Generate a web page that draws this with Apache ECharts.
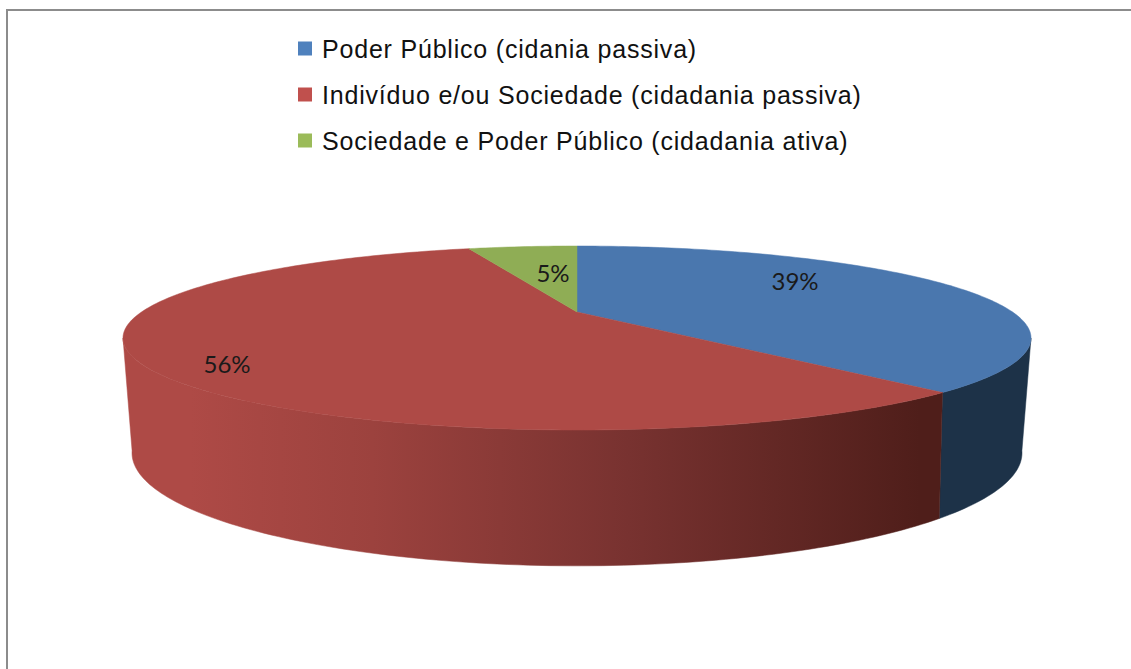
<!DOCTYPE html>
<html>
<head>
<meta charset="utf-8">
<style>
  html, body { margin: 0; padding: 0; background: #fff; }
  #chart { width: 1131px; height: 669px; }
  /* the legend in the picture is set wide */
  #chart svg text { letter-spacing: 0.8px; }
  #chart svg text[style*="Lato"] { letter-spacing: 0; }
</style>
<script src="https://cdn.jsdelivr.net/npm/echarts@6/dist/echarts.min.js"></script>
</head>
<body>
<div id="chart"></div>
<script>
const categories = [
  "Poder Público (cidania passiva)",
  "Indivíduo e/ou Sociedade (cidadania passiva)",
  "Sociedade e Poder Público (cidadania ativa)",
];
const shares = [38.5, 56.4, 5.1];
const colors = ["#4a77ae", "#ae4a46", "#8fad55"];
const legendColors = ["#4f81bd", "#c0504d", "#9bbb59"];
const labelSpots = [[795, 280], [227, 363], [553, 272]];

// the disc in perspective: circle point -> screen through a simple projective map
const topFace = { cy: 312, a: 84.65, A: 435.5, k: 0.2826 };
const bottomFace = { cy: 419, a: 102.8, A: 424.5, k: 0.3 };
const cx = 577;

function project(face, deg) {
  const t = (deg * Math.PI) / 180;
  const u = Math.sin(t);
  const v = -Math.cos(t);
  const w = 1 - face.k * v;
  return [cx + (face.A * u) / w, face.cy + (face.a * v) / w];
}

function rim(face, from, to) {
  const pts = [];
  const steps = Math.max(2, Math.ceil(Math.abs(to - from)));
  for (let i = 0; i <= steps; i++) {
    pts.push(project(face, from + ((to - from) * i) / steps));
  }
  return pts;
}

const total = shares.reduce((s, v) => s + v, 0);
const edgeRight = 106.4; // silhouette of the cylinder, right
const edgeLeft = 253.6; // silhouette of the cylinder, left

const sideFill = [
  "#1d3248",
  new echarts.graphic.LinearGradient(190, 0, 920, 0, [
    { offset: 0, color: "#ae4a46" },
    { offset: 0.25, color: "#9c423e" },
    { offset: 0.6, color: "#783230" },
    { offset: 1, color: "#4f1e1a" },
  ], true),
  "#6b8239",
];

function renderSlice(idx) {
  return function (params, api) {
    const before = shares.slice(0, idx).reduce((s, v) => s + v, 0);
    const from = (before / total) * 360;
    const to = from + (api.value(0) / total) * 360;
    const children = [];

    // outer wall, only the part facing the viewer
    const a = Math.max(from, edgeRight);
    const b = Math.min(to, edgeLeft);
    if (b > a) {
      children.push({
        type: "polygon",
        shape: { points: rim(topFace, a, b).concat(rim(bottomFace, b, a)) },
        style: { fill: sideFill[idx], stroke: sideFill[idx], lineWidth: 0.5 },
      });
    }

    children.push({
      type: "polygon",
      shape: { points: [[cx, topFace.cy]].concat(rim(topFace, from, to)) },
      style: { fill: colors[idx], stroke: colors[idx], lineWidth: 0.5 },
    });

    children.push({
      type: "text",
      x: labelSpots[idx][0],
      y: labelSpots[idx][1],
      style: {
        text: Math.round(api.value(0)) + "%",
        font: "24px Lato, sans-serif",
        fill: "#1a1a1a",
        align: "center",
        verticalAlign: "middle",
      },
    });
    return { type: "group", children };
  };
}

const chart = echarts.init(document.getElementById("chart"), null, { renderer: "svg" });

chart.setOption({
  animation: false,
  backgroundColor: "#fff",
  legend: {
    orient: "vertical",
    left: 293,
    top: 31,
    icon: "rect",
    itemWidth: 14,
    itemHeight: 14,
    itemGap: 21,
    selectedMode: false,
    data: categories,
    textStyle: {
      fontFamily: '"Liberation Sans", Arial, sans-serif',
      fontSize: 25,
      color: "#111",
      padding: [0, 0, 0, 5],
    },
  },
  graphic: [
    { type: "rect", shape: { x: 6, y: 9, width: 2, height: 660 }, style: { fill: "#8c8c8c" }, silent: true },
    { type: "rect", shape: { x: 6, y: 9, width: 1125, height: 2 }, style: { fill: "#8c8c8c" }, silent: true },
  ],
  series: categories.map((name, i) => ({
    type: "custom",
    name,
    coordinateSystem: "none",
    silent: true,
    itemStyle: { color: legendColors[i] },
    renderItem: renderSlice(i),
    data: [[shares[i]]],
  })),
});
</script>
</body>
</html>
